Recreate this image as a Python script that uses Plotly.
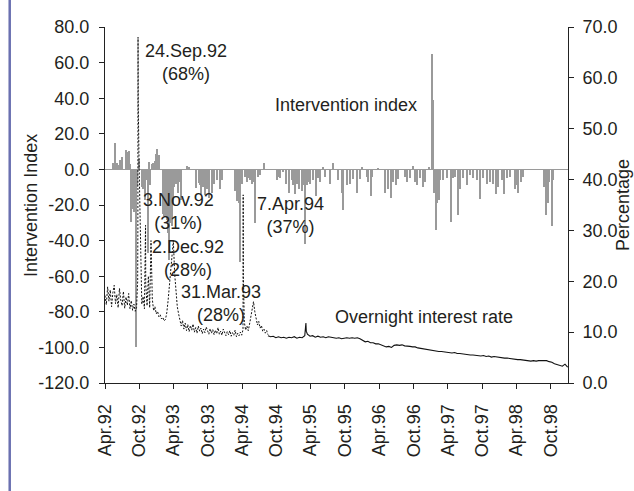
import pandas as pd
import plotly.graph_objects as go

# ---- Intervention index (left axis): days with non-zero intervention ----
interv_dates = [
    "1992-05-13", "1992-05-22", "1992-06-02", "1992-06-14", "1992-06-22", "1992-06-29",
    "1992-07-22", "1992-07-27", "1992-08-01", "1992-08-07", "1992-08-12", "1992-08-17",
    "1992-08-21", "1992-08-26", "1992-08-31", "1992-09-03", "1992-09-07", "1992-09-10",
    "1992-09-14", "1992-09-21", "1992-09-29", "1992-10-13", "1992-10-22", "1992-11-03",
    "1992-11-10", "1992-11-17", "1992-11-22", "1992-11-29", "1992-12-05", "1992-12-12",
    "1992-12-23", "1992-12-28", "1993-01-04", "1993-01-12", "1993-02-02", "1993-02-05",
    "1993-02-09", "1993-02-14", "1993-02-18", "1993-02-23", "1993-02-27", "1993-03-04",
    "1993-03-09", "1993-03-13", "1993-03-17", "1993-03-21", "1993-03-25", "1993-03-29",
    "1993-04-03", "1993-04-14", "1993-04-23", "1993-05-01", "1993-05-10", "1993-06-14",
    "1993-06-25", "1993-07-29", "1993-08-13", "1993-08-20", "1993-08-25", "1993-09-05",
    "1993-09-15", "1993-09-28", "1993-10-08", "1993-10-24", "1993-11-04", "1993-11-20",
    "1993-12-04", "1993-12-13", "1994-02-22", "1994-03-06", "1994-03-17", "1994-03-24",
    "1994-03-30", "1994-04-16", "1994-04-25", "1994-05-04", "1994-05-13", "1994-05-22",
    "1994-06-03", "1994-06-11", "1994-06-26", "1994-07-05", "1994-07-29", "1994-10-02",
    "1994-10-12", "1994-10-20", "1994-11-06", "1994-11-24", "1994-12-08", "1994-12-21",
    "1994-12-30", "1995-01-08", "1995-01-20", "1995-01-31", "1995-02-12", "1995-02-19",
    "1995-03-02", "1995-03-11", "1995-03-18", "1995-03-29", "1995-04-15", "1995-04-30",
    "1995-05-13", "1995-05-24", "1995-06-06", "1995-06-17", "1995-07-13", "1995-07-31",
    "1995-08-25", "1995-09-13", "1995-09-22", "1995-10-10", "1995-10-28", "1995-11-11",
    "1995-12-06", "1995-12-20", "1995-12-31", "1996-01-26", "1996-02-02", "1996-02-15",
    "1996-02-20", "1996-03-26", "1996-05-01", "1996-05-19", "1996-05-31", "1996-06-14",
    "1996-06-29", "1996-07-11", "1996-08-16", "1996-08-25", "1996-09-11", "1996-09-29",
    "1996-10-08", "1996-10-20", "1996-11-04", "1996-11-18", "1996-11-30", "1996-12-23",
    "1997-01-05", "1997-01-13", "1997-01-19", "1997-01-26", "1997-02-04", "1997-02-11",
    "1997-02-18", "1997-03-08", "1997-03-26", "1997-04-18", "1997-04-30", "1997-05-12",
    "1997-05-24", "1997-06-07", "1997-06-22", "1997-07-10", "1997-07-28", "1997-08-11",
    "1997-09-02", "1997-09-19", "1997-10-07", "1997-10-25", "1997-11-11", "1997-11-29",
    "1997-12-13", "1997-12-26", "1998-01-13", "1998-01-25", "1998-02-08", "1998-02-26",
    "1998-03-24", "1998-04-02", "1998-04-11", "1998-04-24", "1998-05-06", "1998-08-28",
    "1998-09-07", "1998-09-15", "1998-09-23", "1998-10-06", "1998-10-13",
]
interv_values = [
    3.6, 14.8, 3.5, 2.5, 5.5, 7.0,
    10.8, 10.0, 5.0, 10.5, 3.0, -29.4,
    -22.0, -19.0, -15.0, -24.0, -20.0, -18.0,
    -100.0, -10.0, 6.0, -10.0, -11.0, -17.0,
    -6.0, -47.0, 4.0, -9.0, 3.0, 3.5,
    5.0, 8.5, 11.5, 8.0, -22.0, -25.0,
    -26.0, -27.0, -24.0, -28.5, -26.0, -36.0,
    -51.0, -30.0, -27.6, -25.0, -32.0, -20.0,
    -10.0, -8.0, -13.5, -7.0, -17.0, 2.0,
    1.5, -10.6, -7.5, -9.0, -14.0, -10.0,
    -14.4, -11.0, -16.0, -13.0, -8.0, -6.0,
    -11.0, -6.0, -12.0, -18.0, -19.0, -52.0,
    -8.0, -4.0, -7.0, -5.0, -6.0, -8.0,
    -7.0, -30.0, -4.0, -3.0, 3.8, -6.0,
    -4.0, -5.0, -1.5, -8.0, -13.0, -6.0,
    -9.0, -14.0, -8.0, -11.0, -12.0, -9.0,
    -42.0, -9.0, -7.0, -8.0, -6.0, -15.0,
    -5.0, -7.0, 1.5, -4.0, -8.0, 3.4,
    -6.0, -13.0, -23.0, -9.0, -8.0, -5.5,
    -13.0, -5.5, 1.5, -4.5, -7.0, -15.0,
    -4.0, 1.0, -13.0, -11.0, -16.0, -7.0,
    -9.0, -5.5, -4.0, -7.0, -5.0, 2.0,
    -7.0, -9.0, -5.0, -10.0, -7.0, 1.5,
    65.0, 39.0, -13.0, -34.0, -19.0, -17.0,
    -6.0, -6.0, -5.0, -29.4, -5.0, -4.0,
    -25.6, -11.0, -5.0, -9.0, -3.0, -5.0,
    -6.0, -16.5, -5.0, -8.0, -7.0, -8.0,
    -14.0, -10.0, -6.0, -14.0, -5.0, -4.5,
    -11.0, -9.0, -13.0, -7.0, -4.0, -10.0,
    -25.6, -19.0, -7.0, -32.0, -6.0,
]

# ---- Overnight interest rate (%, right axis) ----
# Weekly observations from 1 Apr 1992 to 17 Aug 1994 (turbulent period)
rate_early_start = "1992-04-01"
rate_early = [
    17.2, 15.4, 18.9, 16.1, 18.3, 15.0, 17.8, 19.2, 15.6, 17.4, 14.8, 18.6, 16.3,
    15.2, 18.0, 14.7, 16.9, 15.3, 17.6, 14.6, 16.2, 14.3, 15.5, 14.1, 14.8,
    30.0, 42.0, 24.0, 15.5, 17.0, 14.6, 19.5, 15.2, 21.0, 14.8, 28.0, 16.5, 14.2,
    15.0, 13.6,
    14.1, 13.0, 13.4, 12.6, 12.9, 12.2, 12.5, 13.8, 16.2, 19.5, 23.0, 25.8, 28.0,
    21.5, 17.8, 15.0, 13.6, 12.4, 11.2, 12.3, 10.6, 11.8, 10.3, 11.5, 10.1, 11.3,
    10.4, 11.6, 10.0, 10.9, 9.8, 11.2, 10.2, 10.8, 9.7, 10.6, 9.9, 11.0, 10.1,
    9.6, 10.7, 9.8, 10.5, 9.5, 10.4, 9.7, 10.9, 9.6, 10.2, 9.4, 10.6, 9.8, 9.3,
    10.1, 9.5, 10.3, 9.2, 9.9, 9.4, 10.4, 9.1, 9.8, 9.3, 10.0, 9.4, 10.5,
    12.0, 10.4, 11.2, 10.3, 11.6, 13.0, 14.6, 16.0, 14.0, 12.6, 11.4, 12.1, 10.8,
    11.3, 10.2, 10.6, 9.8, 10.3, 9.5,
]
# Daily peaks between the weekly observations
rate_peak_dates = ["1992-09-22", "1992-09-24", "1992-09-25", "1992-11-03",
                   "1994-04-07", "1994-04-08"]
rate_peak_values = [20.0, 68.0, 55.0, 31.0, 37.0, 21.0]

# Fortnightly observations from 17 Aug 1994 to end of 1998
rate_late_start = "1994-08-17"
rate_late = [
    9.3, 9.1, 9.2, 8.9, 9.1, 8.9, 9.0, 8.8, 9.0, 8.9, 9.1, 8.8, 9.0, 8.9, 9.3,
    9.6, 9.2, 9.3, 9.0, 9.2, 9.0, 9.1, 8.9, 9.1, 9.0, 8.9, 8.8, 8.9, 8.7, 8.8,
    8.9, 8.8, 8.9, 8.8, 8.9, 8.7, 8.4, 8.1, 8.2, 7.9, 7.9, 7.7, 7.7, 7.5, 7.4,
    7.1, 7.2, 7.0, 7.4, 7.5, 7.4, 7.5, 7.3, 7.3, 7.2, 7.1, 7.1, 6.9, 6.8, 6.8,
    6.6, 6.5, 6.5, 6.3, 6.3, 6.2, 6.2, 6.1, 6.1, 6.0, 5.9, 6.0, 5.8, 5.8, 5.7,
    5.6, 5.6, 5.5, 5.5, 5.4, 5.4, 5.3, 5.4, 5.2, 5.3, 5.1, 5.2, 5.1, 5.0, 5.0,
    4.9, 4.9, 4.8, 4.8, 4.7, 4.6, 4.6, 4.5, 4.4, 4.4, 4.3, 4.4, 4.3, 4.4, 4.4,
    4.3, 4.4, 4.2, 4.1, 3.8, 3.6, 3.4, 3.3, 3.7, 3.1,
]
rate_late_peak_dates = ["1995-03-07", "1995-03-09"]
rate_late_peak_values = [11.8, 10.2]

# ---- Axis ticks ----
tick_dates = [f"{y}-{m:02d}-01" for y in range(1992, 1999) for m in (4, 10)]
tick_labels = ["Apr.92", "Oct.92", "Apr.93", "Oct.93", "Apr.94", "Oct.94", "Apr.95",
               "Oct.95", "Apr.96", "Oct.96", "Apr.97", "Oct.97", "Apr.98", "Oct.98"]
left_ticks = list(range(-120, 81, 20))
right_ticks = list(range(0, 71, 10))

# ---- Annotated peaks and series labels ----
notes = [
    ("24.Sep.92<br>(68%)", "1993-06-05", 60.3),
    ("3.Nov.92<br>(31%)", "1993-04-30", -23.4),
    ("2.Dec.92<br>(28%)", "1993-06-16", -50.3),
    ("31.Mar.93<br>(28%)", "1993-12-10", -75.2),
    ("7.Apr.94<br>(37%)", "1994-12-17", -25.9),
    ("Intervention index", "1995-10-06", 36.2),
    ("Overnight interest rate", "1996-11-24", -82.9),
]

# Assemble the rate series
early = pd.Series(rate_early,
                  index=pd.date_range(rate_early_start, periods=len(rate_early), freq="7D"))
early = pd.concat([early, pd.Series(rate_peak_values, index=pd.to_datetime(rate_peak_dates))]).sort_index()
late = pd.Series(rate_late,
                 index=pd.date_range(rate_late_start, periods=len(rate_late), freq="14D"))
late = pd.concat([late, pd.Series(rate_late_peak_values,
                                  index=pd.to_datetime(rate_late_peak_dates))]).sort_index()

FONT = "Liberation Sans, Arial, Helvetica, sans-serif"
TEXT = "#231f20"
GREY = "#9a9a9a"

fig = go.Figure()
fig.add_trace(go.Bar(
    x=pd.to_datetime(interv_dates), y=interv_values,
    width=6 * 86400000, marker=dict(color=GREY, line=dict(width=0)),
    yaxis="y", showlegend=False, hoverinfo="x+y",
))
fig.add_trace(go.Scatter(
    x=early.index, y=early.values, mode="lines",
    line=dict(color="#111111", width=1, dash="2px,1.6px"),
    yaxis="y2", showlegend=False,
))
fig.add_trace(go.Scatter(
    x=late.index, y=late.values, mode="lines",
    line=dict(color="#111111", width=1.1),
    yaxis="y2", showlegend=False,
))

for text, xd, yv in notes:
    fig.add_annotation(text=text, x=xd, y=yv, xref="x", yref="y", showarrow=False,
                       font=dict(size=18, color=TEXT, family=FONT), align="center")

# Axis titles
fig.add_annotation(text="Intervention Index", xref="paper", yref="paper",
                   x=-0.160, y=0.5, xanchor="center", yanchor="middle",
                   textangle=-90, showarrow=False,
                   font=dict(size=18, color=TEXT, family=FONT))
fig.add_annotation(text="Percentage", xref="paper", yref="paper",
                   x=1.119, y=0.5, xanchor="center", yanchor="middle",
                   textangle=-90, showarrow=False,
                   font=dict(size=18, color=TEXT, family=FONT))

# Left page rule
fig.add_shape(type="line", xref="paper", yref="paper",
              x0=-0.2058, x1=-0.2058, y0=-0.31, y1=1.08,
              line=dict(color="#6a70b0", width=2.5))

axis_common = dict(showgrid=False, showline=True, linecolor="#222222", linewidth=1,
                   ticks="outside", ticklen=5, tickcolor="#222222",
                   tickfont=dict(size=18, color=TEXT, family=FONT))

fig.update_layout(
    width=634, height=491,
    margin=dict(l=105, r=66, t=27, b=108),
    paper_bgcolor="white", plot_bgcolor="white",
    font=dict(family=FONT, size=18, color=TEXT),
    bargap=0,
    xaxis=dict(type="date", range=["1992-04-01", "1999-01-01"],
               tickvals=tick_dates, ticktext=tick_labels, tickangle=-90,
               ticklabelstandoff=8, **axis_common),
    yaxis=dict(range=[-120, 80], tickvals=left_ticks,
               ticktext=[f"{v:.1f}" for v in left_ticks],
               ticklabelstandoff=6,
               zeroline=True, zerolinecolor=GREY, zerolinewidth=1,
               **axis_common),
    yaxis2=dict(range=[0, 70], tickvals=right_ticks,
                ticktext=[f"{v:.1f}" for v in right_ticks],
                ticklabelstandoff=5,
                overlaying="y", side="right", zeroline=False,
                **axis_common),
)

fig.write_html("out.html")
